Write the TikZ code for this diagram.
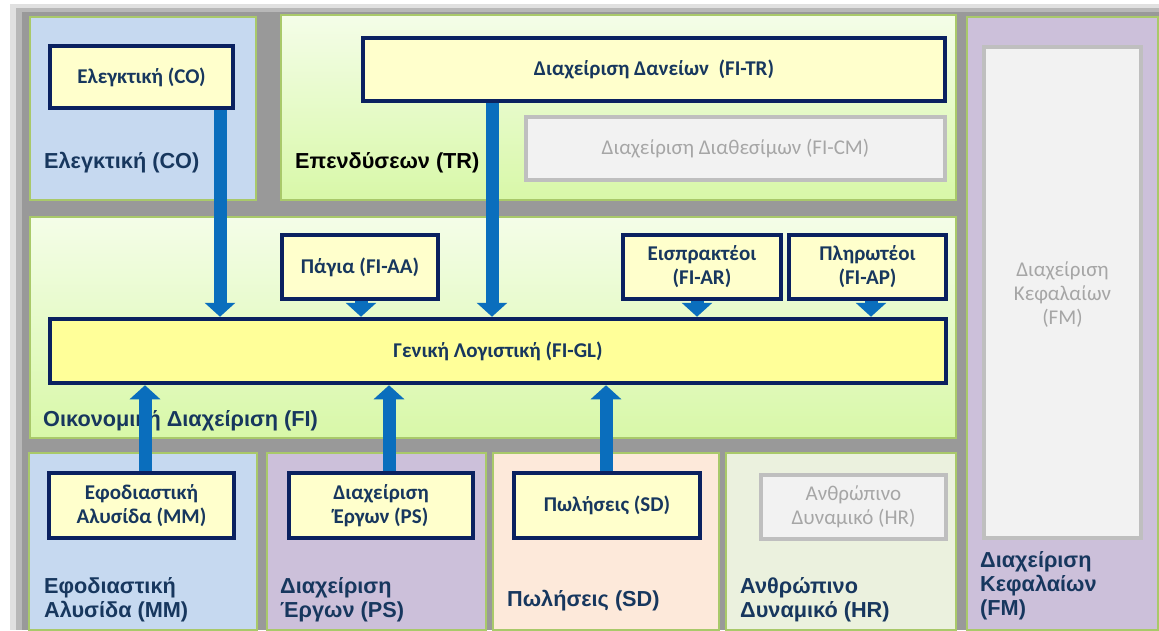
\documentclass[tikz,border=0pt]{standalone}
\usepackage{fontspec}
\setmainfont{Liberation Sans}
\newfontfamily\boxfont{Carlito}
\usetikzlibrary{arrows.meta,shadows}
\definecolor{navy}{HTML}{0A2160}
\definecolor{navytext}{HTML}{17375E}
\definecolor{boxyellow}{HTML}{FFFFCC}
\definecolor{glyellow}{HTML}{FFFF99}
\definecolor{greyfill}{HTML}{F2F2F2}
\definecolor{greyline}{HTML}{BFBFBF}
\definecolor{greytext}{HTML}{A6A6A6}
\definecolor{coblue}{HTML}{C6D9F0}
\definecolor{purp}{HTML}{CCC0DA}
\definecolor{peach}{HTML}{FDE9DA}
\definecolor{hrgreen}{HTML}{EBF1DE}
\definecolor{gtop}{HTML}{F4FDE8}
\definecolor{gbot}{HTML}{D8F8A8}
\definecolor{pborder}{HTML}{A9C96A}
\definecolor{arrowblue}{HTML}{0A6EBD}
\begin{document}
\begin{tikzpicture}[x=1pt,y=-1pt,
  panel/.style={draw=pborder, line width=1.2pt},
  greenpanel/.style={panel, top color=gtop, bottom color=gbot},
  modbox/.style={draw=navy, line width=4.5pt, fill=boxyellow, text=navytext,
    font=\boxfont\bfseries\fontsize{21}{24}\selectfont, align=center, inner sep=0pt,
    drop shadow={shadow xshift=2pt, shadow yshift=-2pt, opacity=0.25}},
  greybox/.style={draw=greyline, line width=3.5pt, fill=greyfill, text=greytext,
    font=\boxfont\fontsize{21}{24}\selectfont, align=center, inner sep=0pt,
    drop shadow={shadow xshift=2pt, shadow yshift=-2pt, opacity=0.25}},
  plabel/.style={text=navytext, font=\bfseries\fontsize{21.7}{24}\selectfont, align=left, anchor=west, inner sep=0pt},
  bigarrow/.style={draw=arrowblue, line width=13pt, -{Triangle[width=30pt,length=14pt]}}
]
\useasboundingbox (0,0) rectangle (1159,630);
\fill[white] (0,0) rectangle (1159,630);
\fill[black!12] (10,4) rectangle (1159,630);
\fill[black!28] (16,8) rectangle (1159,630);
\fill[black!40] (22,12) rectangle (1159,630);

% panels
\path[panel, fill=coblue] (30,17) rectangle (256,200);
\path[greenpanel] (281,15) rectangle (956,200);
\path[panel, fill=purp] (967,17) rectangle (1158,630);
\path[greenpanel] (30,217) rectangle (956,438);
\path[panel, fill=coblue] (29,453) rectangle (257,630);
\path[panel, fill=purp] (267,453) rectangle (486,630);
\path[panel, fill=peach] (493,453) rectangle (719,630);
\path[panel, fill=hrgreen] (726,453) rectangle (956,630);

% panel labels
\node[plabel] (lco) at (44,163) {Ελεγκτική (CO)};
\node[plabel, text=black] (ltr) at (295,163) {Επενδύσεων (TR)};
\node[plabel] (lfi) at (43,421) {Οικονομική Διαχείριση (FI)};
\node[plabel] (lmm) at (44,600) {Εφοδιαστική\\Αλυσίδα (MM)};
\node[plabel] (lps) at (280,600) {Διαχείριση\\Έργων (PS)};
\node[plabel] (lsd) at (507,601) {Πωλήσεις (SD)};
\node[plabel] (lhr) at (740,600) {Ανθρώπινο\\Δυναμικό (HR)};
\node[plabel] (lfm) at (980,586) {Διαχείριση\\Κεφαλαίων\\(FM)};

% module boxes
\node[modbox, minimum width=183pt, minimum height=62pt] (co) at (141.5,77) {Ελεγκτική (CO)};
\node[modbox, minimum width=582pt, minimum height=63pt] (tr) at (654,69.5) {Διαχείριση Δανείων~ (FI-TR)};
\node[greybox, minimum width=419pt, minimum height=63pt] (cm) at (735.5,148.5) {Διαχείριση Διαθεσίμων (FI-CM)};
\node[greybox, minimum width=157pt, minimum height=491pt] (fmi) at (1062.5,292.5) {};
\node[text=greytext, font=\boxfont\fontsize{21}{24}\selectfont, align=center] (fmt) at (1062.5,295) {Διαχείριση\\Κεφαλαίων\\(FM)};
\node[modbox, minimum width=156pt, minimum height=64pt] (aa) at (360,267) {Πάγια (FI-AA)};
\node[modbox, minimum width=158pt, minimum height=64pt] (ar) at (702,267) {Εισπρακτέοι\\(FI-AR)};
\node[modbox, minimum width=157pt, minimum height=64pt] (ap) at (867.5,267) {Πληρωτέοι\\(FI-AP)};
\node[modbox, fill=glyellow, minimum width=896pt, minimum height=64pt] (gl) at (498,351) {Γενική Λογιστική (FI-GL)};
\node[modbox, minimum width=185pt, minimum height=65pt] (mm) at (141.5,505.5) {Εφοδιαστική\\Αλυσίδα (MM)};
\node[modbox, minimum width=184pt, minimum height=65pt] (ps) at (381,505.5) {Διαχείριση\\Έργων (PS)};
\node[modbox, minimum width=186pt, minimum height=65pt] (sd) at (607,505.5) {Πωλήσεις (SD)};
\node[greybox, minimum width=185pt, minimum height=64pt] (hr) at (853.5,507) {Ανθρώπινο\\Δυναμικό (HR)};

% arrows
\draw[bigarrow] (co.south -| 220,0) -- (gl.north -| 220,0);
\draw[bigarrow] (tr.south -| 492,0) -- (gl.north -| 492,0);
\draw[bigarrow] (aa.south -| 361,0) -- (gl.north -| 361,0);
\draw[bigarrow] (ar.south -| 697,0) -- (gl.north -| 697,0);
\draw[bigarrow] (ap.south -| 871,0) -- (gl.north -| 871,0);
\draw[bigarrow] (mm.north -| 145,0) -- (gl.south -| 145,0);
\draw[bigarrow] (ps.north -| 389,0) -- (gl.south -| 389,0);
\draw[bigarrow] (sd.north -| 606,0) -- (gl.south -| 606,0);
\end{tikzpicture}
\end{document}
